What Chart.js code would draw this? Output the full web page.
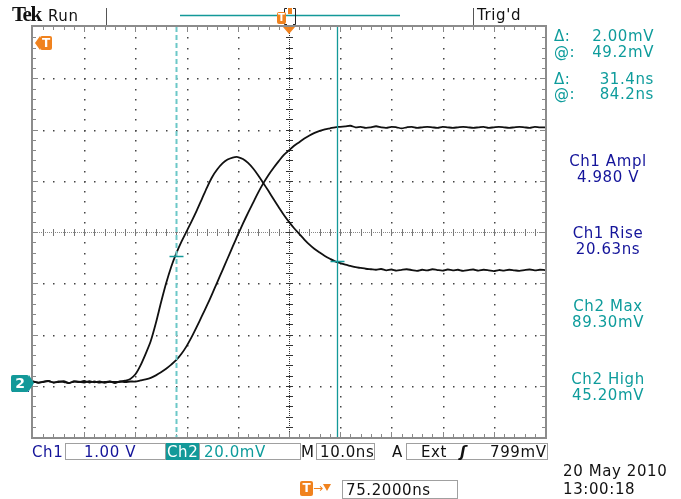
<!DOCTYPE html>
<html>
<head>
<meta charset="utf-8">
<script src="https://cdn.jsdelivr.net/npm/chart.js@4.4.0/dist/chart.umd.min.js"></script>
<style>
body { margin: 0; background: #fff; }
#wrap { position: relative; width: 681px; height: 499px; overflow: hidden; font-family: "DejaVu Sans", sans-serif; font-size: 15px; letter-spacing: 0.6px; }
#wrap canvas { position: absolute; left: 0; top: 0; }
.t { position: absolute; line-height: 16px; white-space: pre; }
.blue { color: #14149a; }
.teal { color: #0e9c9c; }
.blk { color: #111; }
.c { text-align: center; width: 120px; left: 548px; }
.r { text-align: right; width: 70px; left: 584px; }
.box { position: absolute; top: 443px; height: 15px; border: 1px solid #a0a0a0; }
.ticon { position: absolute; background: #f0821e; color: #fff; font: bold 12px "DejaVu Sans", sans-serif; line-height: 13px; text-align: center; border-radius: 2px; letter-spacing: 0; }
.tri { position: absolute; width: 0; height: 0; }
</style>
</head>
<body>
<div id="wrap">
  <canvas id="scope" width="681" height="499"></canvas>

  <!-- top bar -->
  <div class="t blk" style="left:12px;top:4px;font:bold 21px 'Liberation Serif',serif;letter-spacing:-1.5px;line-height:21px;">Tek</div>
  <div class="t blk" style="left:48px;top:8px;">Run</div>
  <div class="t blk" style="left:477px;top:7px;">Trig'd</div>
  <div class="ticon" style="left:277px;top:12px;width:9px;height:12px;font-size:10px;line-height:12px;">T</div>

  <!-- cursor readouts -->
  <div class="t teal" style="left:554px;top:28px;">Δ:</div>
  <div class="t teal r" style="top:28px;">2.00mV</div>
  <div class="t teal" style="left:554px;top:44px;">@:</div>
  <div class="t teal r" style="top:44px;">49.2mV</div>
  <div class="t teal" style="left:554px;top:71px;">Δ:</div>
  <div class="t teal r" style="top:71px;">31.4ns</div>
  <div class="t teal" style="left:554px;top:86px;">@:</div>
  <div class="t teal r" style="top:86px;">84.2ns</div>

  <!-- measurements -->
  <div class="t blue c" style="top:153px;">Ch1 Ampl<br>4.980 V</div>
  <div class="t blue c" style="top:225px;">Ch1 Rise<br>20.63ns</div>
  <div class="t teal c" style="top:298px;">Ch2 Max<br>89.30mV</div>
  <div class="t teal c" style="top:371px;">Ch2 High<br>45.20mV</div>

  <!-- markers -->
  <div class="tri" style="left:35px;top:36px;border-right:5px solid #f0821e;border-top:7px solid transparent;border-bottom:7px solid transparent;"></div>
  <div class="ticon" style="left:40px;top:36px;width:12px;height:14px;line-height:14px;">T</div>
  <div style="position:absolute;left:12px;top:391px;width:17px;height:0;border-top:1px dotted #14149a;"></div>
  <div class="ticon" style="left:11px;top:375px;width:18px;height:17px;line-height:17px;font-size:14px;background:#139999;">2</div>
  <div class="tri" style="left:29px;top:375px;border-left:5px solid #139999;border-top:8.5px solid transparent;border-bottom:8.5px solid transparent;"></div>

  <!-- bottom status row -->
  <div class="t blue" style="left:32px;top:444px;">Ch1</div>
  <div class="box" style="left:65px;width:99px;"></div>
  <div class="t blue" style="left:84px;top:444px;">1.00 V</div>
  <div style="position:absolute;left:166px;top:443px;width:33px;height:17px;background:#139999;"></div>
  <div class="t" style="left:167px;top:444px;color:#fff;">Ch2</div>
  <div class="box" style="left:199px;width:100px;"></div>
  <div class="t teal" style="left:204px;top:444px;">20.0mV</div>
  <div class="t blk" style="left:301px;top:444px;">M</div>
  <div class="box" style="left:316px;width:57px;"></div>
  <div class="t blk" style="left:320px;top:444px;">10.0ns</div>
  <div class="t blk" style="left:392px;top:444px;">A</div>
  <div class="box" style="left:406px;width:140px;"></div>
  <div class="t blk" style="left:421px;top:444px;">Ext</div>
  <div class="t blk" style="left:460px;top:444px;font-style:italic;font-weight:bold;">ʃ</div>
  <div class="t blk" style="left:490px;top:444px;">799mV</div>

  <div class="t blk" style="left:563px;top:463px;">20 May 2010</div>
  <div class="t blk" style="left:563px;top:481px;">13:00:18</div>

  <div class="ticon" style="left:300px;top:481px;width:13px;height:15px;line-height:15px;">T</div>
  <div class="t" style="left:313px;top:480px;color:#f0821e;font-size:12px;">→</div>
  <div class="tri" style="left:323px;top:484px;border-top:7px solid #f0821e;border-left:4.5px solid transparent;border-right:4.5px solid transparent;"></div>
  <div class="box" style="left:342px;top:480px;width:114px;height:17px;"></div>
  <div class="t blk" style="left:346px;top:482px;">75.2000ns</div>
</div>

<script>
// 시간축 (ns), 10 ns/div, 화면 왼쪽 끝 = 0
var timeNs = [0,1,2,3,4,5,6,7,8,9,10,11,12,13,14,15,16,17,18,19,20,21,22,23,24,25,26,27,28,29,
  30,31,32,33,34,35,36,37,38,39,40,41,42,43,44,45,46,47,48,49,50,51,52,53,54,55,56,57,58,59,
  60,61,62,63,64,65,66,67,68,69,70,71,72,73,74,75,76,77,78,79,80,81,82,83,84,85,86,87,88,89,
  90,91,92,93,94,95,96,97,98,99,100];

// Ch1 (V) - step
var ch1Volts = [0.01,-0.01,0.00,0.02,-0.01,0.01,0.00,-0.02,0.01,0.00,0.02,-0.01,0.01,-0.01,0.00,0.01,-0.02,0.01,0.00,0.01,
  0.01,0.03,0.05,0.08,0.13,0.19,0.26,0.34,0.43,0.55,0.70,0.88,1.08,1.29,1.50,1.72,1.95,2.18,2.41,2.64,
  2.87,3.09,3.30,3.50,3.70,3.88,4.04,4.18,4.31,4.43,4.52,4.61,4.68,4.75,4.81,4.86,4.90,4.93,4.95,4.97,
  4.98,4.99,5.00,
  4.97,4.98,4.96,4.97,4.99,4.97,4.96,4.98,4.97,4.95,4.97,4.98,4.96,4.97,4.98,4.97,4.96,4.98,4.97,4.96,
  4.97,4.98,4.97,4.96,4.97,4.98,4.96,4.97,4.98,4.97,4.96,4.97,4.98,4.97,4.96,4.98,4.97,4.97];

// Ch2 (mV) - pulse
var ch2MilliVolts = [0.2,-0.3,0.1,0.4,-0.2,0.0,0.3,-0.4,0.2,0.1,-0.2,0.3,-0.1,0.2,-0.3,0.1,0.0,
  0.1,0.5,1.2,3.0,6.5,11,16,23,31,38.5,45,50.3,54.8,58.8,62.8,67,71.5,76,80,83,85.3,86.8,87.6,87.8,
  87.0,85.5,83.3,80.6,77.6,74.5,71.3,68.2,65.2,62.5,60.0,57.8,55.6,53.6,51.9,50.5,49.2,48.1,47.1,46.4,
  45.8,45.3,44.8,44.5,44.2,44.0,
  43.8,44.1,43.6,43.9,43.5,43.8,44.0,43.7,43.4,43.8,43.6,44.0,43.7,43.5,43.9,43.6,43.8,43.4,43.7,43.9,
  43.5,43.8,43.6,43.3,43.7,43.5,43.8,43.6,43.4,43.7,43.9,43.6,43.8,43.7];

// 커서
var cursorTimesNs = [27.9, 59.4];
var cursorLevelsMv = [49.2, 47.2];
var triggerTimeNs = 50;

// 수직 설정
var ch1VoltsPerDiv = 1.0;
var ch2MvPerDiv = 20.0;
var groundDiv = -2.927;

var teal = '#139999';
var orange = '#f0821e';

// 눈금
var graticule = {
  id: 'graticule',
  beforeDatasetsDraw: function (chart) {
    var ctx = chart.ctx, a = chart.chartArea;
    var dx = (a.right - a.left) / 10, dy = (a.bottom - a.top) / 8;
    ctx.save();
    ctx.fillStyle = '#444';
    for (var i = 1; i < 10; i++) {
      if (i == 5) continue;
      var x = Math.round(a.left + i * dx);
      for (var k = 1; k < 40; k++) ctx.fillRect(x, Math.round(a.top + k * dy / 5), 1.5, 1.5);
    }
    for (var j = 1; j < 8; j++) {
      if (j == 4) continue;
      var y = Math.round(a.top + j * dy);
      for (var k = 1; k < 50; k++) ctx.fillRect(Math.round(a.left + k * dx / 5), y, 1.5, 1.5);
    }
    // center cross
    var cx = Math.round(a.left + 5 * dx), cy = Math.round(a.top + 4 * dy);
    ctx.fillStyle = '#888';
    for (var p = a.left; p < a.right; p += 2) ctx.fillRect(p, cy, 1, 1);
    ctx.fillStyle = '#333';
    for (var p = a.top; p < a.bottom; p += 2) ctx.fillRect(cx, p, 1, 1);
    ctx.fillStyle = '#777';
    for (var k = 1; k < 50; k++) ctx.fillRect(Math.round(a.left + k * dx / 5), cy - 3, 1, 7);
    ctx.fillStyle = '#333';
    for (var k = 1; k < 40; k++) ctx.fillRect(cx - 3, Math.round(a.top + k * dy / 5), 7, 1);
    // frame + edge ticks
    ctx.strokeStyle = '#8c8c8c';
    ctx.lineWidth = 2;
    ctx.strokeRect(a.left - 1, a.top - 1, a.right - a.left + 2, a.bottom - a.top + 2);
    ctx.fillStyle = '#888';
    for (var k = 1; k < 50; k++) {
      var x = Math.round(a.left + k * dx / 5);
      var len = (k % 5 == 0) ? 5 : 3;
      ctx.fillRect(x, a.top, 1, len);
      ctx.fillRect(x, a.bottom - len, 1, len);
    }
    for (var k = 1; k < 40; k++) {
      var y = Math.round(a.top + k * dy / 5);
      var len = (k % 5 == 0) ? 5 : 3;
      ctx.fillRect(a.left, y, len, 1);
      ctx.fillRect(a.right - len, y, len, 1);
    }
    ctx.restore();
  }
};

var cursors = {
  id: 'cursors',
  afterDatasetsDraw: function (chart) {
    var ctx = chart.ctx, a = chart.chartArea, s = chart.scales;
    ctx.save();
    cursorTimesNs.forEach(function (t, i) {
      var x = Math.round(s.x.getPixelForValue(t)) + 0.5;
      ctx.beginPath();
      ctx.strokeStyle = i == 0 ? '#6cc8c8' : teal;
      ctx.lineWidth = i == 0 ? 2 : 1.3;
      ctx.setLineDash(i == 0 ? [5, 3] : []);
      ctx.moveTo(x, a.top);
      ctx.lineTo(x, a.bottom);
      ctx.stroke();
      var y = Math.round(s.y2.getPixelForValue(cursorLevelsMv[i])) + 0.5;
      ctx.beginPath();
      ctx.setLineDash([]);
      ctx.strokeStyle = teal;
      ctx.lineWidth = 1.5;
      ctx.moveTo(x - 7, y);
      ctx.lineTo(x + 7, y);
      ctx.stroke();
    });
    // trigger position marker
    var tx = s.x.getPixelForValue(triggerTimeNs);
    ctx.fillStyle = orange;
    ctx.beginPath();
    ctx.moveTo(tx - 6, a.top);
    ctx.lineTo(tx + 6, a.top);
    ctx.lineTo(tx, a.top + 7);
    ctx.closePath();
    ctx.fill();
    ctx.restore();
  },
  afterDraw: function (chart) {
    var ctx = chart.ctx;
    ctx.save();
    ctx.strokeStyle = teal;
    ctx.lineWidth = 1.5;
    ctx.beginPath();
    ctx.moveTo(180, 15.5); ctx.lineTo(400, 15.5);
    ctx.stroke();
    ctx.strokeStyle = '#222';
    ctx.lineWidth = 1;
    ctx.beginPath();
    ctx.moveTo(287, 8.5); ctx.lineTo(284.5, 8.5); ctx.lineTo(284.5, 24.5); ctx.lineTo(287, 24.5);
    ctx.moveTo(293, 8.5); ctx.lineTo(295.5, 8.5); ctx.lineTo(295.5, 24.5); ctx.lineTo(293, 24.5);
    ctx.stroke();
    ctx.fillStyle = orange;
    ctx.fillRect(288, 8, 4, 6);
    // separators
    ctx.strokeStyle = '#555';
    ctx.beginPath();
    ctx.moveTo(106.5, 8); ctx.lineTo(106.5, 25);
    ctx.moveTo(473.5, 8); ctx.lineTo(473.5, 25);
    ctx.stroke();
    ctx.restore();
  }
};

function toPoints(vals) {
  var pts = [];
  for (var i in timeNs) pts.push({ x: timeNs[i], y: vals[i] });
  return pts;
}

var ctx = document.getElementById('scope').getContext('2d');
var myChart = new Chart(ctx, {
  type: 'line',
  data: {
    datasets: [
      {
        label: 'Ch1',
        data: toPoints(ch1Volts),
        yAxisID: 'y1',
        borderColor: '#111',
        borderWidth: 1.8,
        pointRadius: 0,
        tension: 0.3
      },
      {
        label: 'Ch2',
        data: toPoints(ch2MilliVolts),
        yAxisID: 'y2',
        borderColor: '#111',
        borderWidth: 1.8,
        pointRadius: 0,
        tension: 0.3
      }
    ]
  },
  options: {
    responsive: false,
    animation: false,
    layout: { padding: { left: 33, right: 136, top: 27, bottom: 62 } },
    plugins: { legend: { display: false }, tooltip: { enabled: false } },
    scales: {
      x: { type: 'linear', min: 0, max: 100, display: false },
      y1: { min: (-4 - groundDiv) * ch1VoltsPerDiv, max: (4 - groundDiv) * ch1VoltsPerDiv, display: false },
      y2: { min: (-4 - groundDiv) * ch2MvPerDiv, max: (4 - groundDiv) * ch2MvPerDiv, display: false }
    }
  },
  plugins: [graticule, cursors]
});
</script>
</body>
</html>
